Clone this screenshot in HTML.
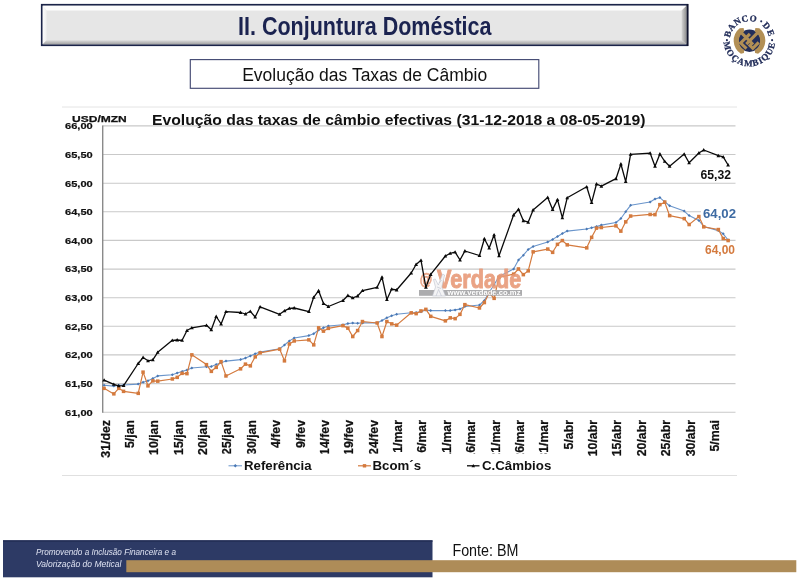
<!DOCTYPE html>
<html lang="pt"><head><meta charset="utf-8"><title>II. Conjuntura Doméstica</title>
<style>html,body{margin:0;padding:0;background:#fff}body{width:800px;height:579px;overflow:hidden}svg{display:block}text{font-family:"Liberation Sans",Arial,sans-serif}.b{font-weight:bold}.ser{font-family:"Liberation Serif","DejaVu Serif",serif;font-weight:bold}</style>
</head><body>
<svg width="800" height="579" viewBox="0 0 800 579">
<defs>
<linearGradient id="tg" x1="0" y1="0" x2="0" y2="1"><stop offset="0" stop-color="#ffffff"/><stop offset="0.14" stop-color="#fbfbfb"/><stop offset="0.17" stop-color="#e7e7e7"/><stop offset="0.86" stop-color="#e5e5e5"/><stop offset="0.93" stop-color="#cfcfcf"/><stop offset="1" stop-color="#9c9c9c"/></linearGradient>
<linearGradient id="tl" x1="0" y1="0" x2="1" y2="0"><stop offset="0" stop-color="#fbfbfb"/><stop offset="1" stop-color="#efefef"/></linearGradient>
<linearGradient id="tb" x1="0" y1="0" x2="0" y2="1"><stop offset="0" stop-color="#dcdcdc"/><stop offset="1" stop-color="#a2a2a2"/></linearGradient>
<linearGradient id="tr" x1="0" y1="0" x2="1" y2="0"><stop offset="0" stop-color="#d4d4d4"/><stop offset="1" stop-color="#8e8e8e"/></linearGradient>
</defs>
<rect width="800" height="579" fill="#ffffff"/>
<rect x="41.8" y="4.8" width="645.6" height="40.4" fill="#e6e6e6" stroke="#1b2449" stroke-width="1.8"/>
<path d="M42.7,5.7 L686.5,5.7 L681.6,10.6 L46.6,10.6 Z" fill="#fdfdfd"/>
<path d="M42.7,5.7 L46.6,10.6 L46.6,40.2 L42.7,44.3 Z" fill="url(#tl)"/>
<path d="M42.7,44.3 L46.6,40.2 L681.6,40.2 L686.5,44.3 Z" fill="url(#tb)"/>
<path d="M686.5,5.7 L686.5,44.3 L681.6,40.2 L681.6,10.6 Z" fill="url(#tr)"/>
<line x1="687.6" y1="4" x2="687.6" y2="46" stroke="#10142c" stroke-width="1.6"/>
<text class="b" x="238" y="35.2" font-size="25.5" fill="#1b2350" textLength="253.5" lengthAdjust="spacingAndGlyphs">II. Conjuntura Doméstica</text>
<rect x="190.3" y="59.6" width="348.5" height="28.7" fill="#fff" stroke="#454b74" stroke-width="1.15"/>
<text x="242.2" y="80.8" font-size="18" fill="#111" textLength="245" lengthAdjust="spacingAndGlyphs">Evolução das Taxas de Câmbio</text>
<line x1="62" y1="107" x2="737" y2="107" stroke="#e4e4e4" stroke-width="1"/>
<line x1="62" y1="475.5" x2="737" y2="475.5" stroke="#e0e0e0" stroke-width="1"/>
<line x1="102.5" y1="125.9" x2="735.5" y2="125.9" stroke="#c9c9c9" stroke-width="1.1"/>
<line x1="102.5" y1="154.5" x2="735.5" y2="154.5" stroke="#c9c9c9" stroke-width="1.1"/>
<line x1="102.5" y1="183.2" x2="735.5" y2="183.2" stroke="#c9c9c9" stroke-width="1.1"/>
<line x1="102.5" y1="211.8" x2="735.5" y2="211.8" stroke="#c9c9c9" stroke-width="1.1"/>
<line x1="102.5" y1="240.4" x2="735.5" y2="240.4" stroke="#c9c9c9" stroke-width="1.1"/>
<line x1="102.5" y1="269.1" x2="735.5" y2="269.1" stroke="#c9c9c9" stroke-width="1.1"/>
<line x1="102.5" y1="297.7" x2="735.5" y2="297.7" stroke="#c9c9c9" stroke-width="1.1"/>
<line x1="102.5" y1="326.3" x2="735.5" y2="326.3" stroke="#c9c9c9" stroke-width="1.1"/>
<line x1="102.5" y1="354.9" x2="735.5" y2="354.9" stroke="#c9c9c9" stroke-width="1.1"/>
<line x1="102.5" y1="383.6" x2="735.5" y2="383.6" stroke="#c9c9c9" stroke-width="1.1"/>
<line x1="102.5" y1="412.2" x2="735.5" y2="412.2" stroke="#c9c9c9" stroke-width="1.1"/>
<line x1="102.7" y1="125.4" x2="102.7" y2="412.8" stroke="#8a8a8a" stroke-width="1.4"/>
<text class="b" x="65" y="129.2" font-size="9.6" fill="#111" stroke="#111" stroke-width="0.2" textLength="27.7" lengthAdjust="spacingAndGlyphs">66,00</text>
<text class="b" x="65" y="157.8" font-size="9.6" fill="#111" stroke="#111" stroke-width="0.2" textLength="27.7" lengthAdjust="spacingAndGlyphs">65,50</text>
<text class="b" x="65" y="186.5" font-size="9.6" fill="#111" stroke="#111" stroke-width="0.2" textLength="27.7" lengthAdjust="spacingAndGlyphs">65,00</text>
<text class="b" x="65" y="215.1" font-size="9.6" fill="#111" stroke="#111" stroke-width="0.2" textLength="27.7" lengthAdjust="spacingAndGlyphs">64,50</text>
<text class="b" x="65" y="243.7" font-size="9.6" fill="#111" stroke="#111" stroke-width="0.2" textLength="27.7" lengthAdjust="spacingAndGlyphs">64,00</text>
<text class="b" x="65" y="272.4" font-size="9.6" fill="#111" stroke="#111" stroke-width="0.2" textLength="27.7" lengthAdjust="spacingAndGlyphs">63,50</text>
<text class="b" x="65" y="301.0" font-size="9.6" fill="#111" stroke="#111" stroke-width="0.2" textLength="27.7" lengthAdjust="spacingAndGlyphs">63,00</text>
<text class="b" x="65" y="329.6" font-size="9.6" fill="#111" stroke="#111" stroke-width="0.2" textLength="27.7" lengthAdjust="spacingAndGlyphs">62,50</text>
<text class="b" x="65" y="358.2" font-size="9.6" fill="#111" stroke="#111" stroke-width="0.2" textLength="27.7" lengthAdjust="spacingAndGlyphs">62,00</text>
<text class="b" x="65" y="386.9" font-size="9.6" fill="#111" stroke="#111" stroke-width="0.2" textLength="27.7" lengthAdjust="spacingAndGlyphs">61,50</text>
<text class="b" x="65" y="415.5" font-size="9.6" fill="#111" stroke="#111" stroke-width="0.2" textLength="27.7" lengthAdjust="spacingAndGlyphs">61,00</text>
<text class="b" x="72" y="121.8" font-size="9.9" fill="#111" stroke="#111" stroke-width="0.25" textLength="54.8" lengthAdjust="spacingAndGlyphs">USD/MZN</text>
<text class="b" x="152" y="125.3" font-size="14.7" fill="#111" textLength="493.5" lengthAdjust="spacingAndGlyphs">Evolução das taxas de câmbio efectivas (31-12-2018 a 08-05-2019)</text>
<text class="b" transform="translate(109.5,420) rotate(-90) scale(0.905,1)" x="0" y="0" text-anchor="end" font-size="13.6" fill="#111" stroke="#111" stroke-width="0.25">31/dez</text>
<text class="b" transform="translate(133.9,420) rotate(-90) scale(0.905,1)" x="0" y="0" text-anchor="end" font-size="13.6" fill="#111" stroke="#111" stroke-width="0.25">5/jan</text>
<text class="b" transform="translate(158.2,420) rotate(-90) scale(0.905,1)" x="0" y="0" text-anchor="end" font-size="13.6" fill="#111" stroke="#111" stroke-width="0.25">10/jan</text>
<text class="b" transform="translate(182.6,420) rotate(-90) scale(0.905,1)" x="0" y="0" text-anchor="end" font-size="13.6" fill="#111" stroke="#111" stroke-width="0.25">15/jan</text>
<text class="b" transform="translate(207.0,420) rotate(-90) scale(0.905,1)" x="0" y="0" text-anchor="end" font-size="13.6" fill="#111" stroke="#111" stroke-width="0.25">20/jan</text>
<text class="b" transform="translate(231.4,420) rotate(-90) scale(0.905,1)" x="0" y="0" text-anchor="end" font-size="13.6" fill="#111" stroke="#111" stroke-width="0.25">25/jan</text>
<text class="b" transform="translate(255.8,420) rotate(-90) scale(0.905,1)" x="0" y="0" text-anchor="end" font-size="13.6" fill="#111" stroke="#111" stroke-width="0.25">30/jan</text>
<text class="b" transform="translate(280.1,420) rotate(-90) scale(0.905,1)" x="0" y="0" text-anchor="end" font-size="13.6" fill="#111" stroke="#111" stroke-width="0.25">4/fev</text>
<text class="b" transform="translate(304.5,420) rotate(-90) scale(0.905,1)" x="0" y="0" text-anchor="end" font-size="13.6" fill="#111" stroke="#111" stroke-width="0.25">9/fev</text>
<text class="b" transform="translate(328.9,420) rotate(-90) scale(0.905,1)" x="0" y="0" text-anchor="end" font-size="13.6" fill="#111" stroke="#111" stroke-width="0.25">14/fev</text>
<text class="b" transform="translate(353.2,420) rotate(-90) scale(0.905,1)" x="0" y="0" text-anchor="end" font-size="13.6" fill="#111" stroke="#111" stroke-width="0.25">19/fev</text>
<text class="b" transform="translate(377.6,420) rotate(-90) scale(0.905,1)" x="0" y="0" text-anchor="end" font-size="13.6" fill="#111" stroke="#111" stroke-width="0.25">24/fev</text>
<text class="b" transform="translate(402.0,420) rotate(-90) scale(0.905,1)" x="0" y="0" text-anchor="end" font-size="13.6" fill="#111" stroke="#111" stroke-width="0.25">1/mar</text>
<text class="b" transform="translate(426.4,420) rotate(-90) scale(0.905,1)" x="0" y="0" text-anchor="end" font-size="13.6" fill="#111" stroke="#111" stroke-width="0.25">6/mar</text>
<text class="b" transform="translate(450.8,420) rotate(-90) scale(0.905,1)" x="0" y="0" text-anchor="end" font-size="13.6" fill="#111" stroke="#111" stroke-width="0.25">11/mar</text>
<text class="b" transform="translate(475.1,420) rotate(-90) scale(0.905,1)" x="0" y="0" text-anchor="end" font-size="13.6" fill="#111" stroke="#111" stroke-width="0.25">16/mar</text>
<text class="b" transform="translate(499.5,420) rotate(-90) scale(0.905,1)" x="0" y="0" text-anchor="end" font-size="13.6" fill="#111" stroke="#111" stroke-width="0.25">21/mar</text>
<text class="b" transform="translate(523.9,420) rotate(-90) scale(0.905,1)" x="0" y="0" text-anchor="end" font-size="13.6" fill="#111" stroke="#111" stroke-width="0.25">26/mar</text>
<text class="b" transform="translate(548.2,420) rotate(-90) scale(0.905,1)" x="0" y="0" text-anchor="end" font-size="13.6" fill="#111" stroke="#111" stroke-width="0.25">31/mar</text>
<text class="b" transform="translate(572.6,420) rotate(-90) scale(0.905,1)" x="0" y="0" text-anchor="end" font-size="13.6" fill="#111" stroke="#111" stroke-width="0.25">5/abr</text>
<text class="b" transform="translate(597.0,420) rotate(-90) scale(0.905,1)" x="0" y="0" text-anchor="end" font-size="13.6" fill="#111" stroke="#111" stroke-width="0.25">10/abr</text>
<text class="b" transform="translate(621.4,420) rotate(-90) scale(0.905,1)" x="0" y="0" text-anchor="end" font-size="13.6" fill="#111" stroke="#111" stroke-width="0.25">15/abr</text>
<text class="b" transform="translate(645.8,420) rotate(-90) scale(0.905,1)" x="0" y="0" text-anchor="end" font-size="13.6" fill="#111" stroke="#111" stroke-width="0.25">20/abr</text>
<text class="b" transform="translate(670.1,420) rotate(-90) scale(0.905,1)" x="0" y="0" text-anchor="end" font-size="13.6" fill="#111" stroke="#111" stroke-width="0.25">25/abr</text>
<text class="b" transform="translate(694.5,420) rotate(-90) scale(0.905,1)" x="0" y="0" text-anchor="end" font-size="13.6" fill="#111" stroke="#111" stroke-width="0.25">30/abr</text>
<text class="b" transform="translate(718.9,420) rotate(-90) scale(0.905,1)" x="0" y="0" text-anchor="end" font-size="13.6" fill="#111" stroke="#111" stroke-width="0.25">5/mai</text>
<polyline fill="none" stroke="#6a95cb" stroke-width="1.1" stroke-linejoin="round" points="104.1,385.3 113.8,386.1 118.7,385.3 123.6,385.0 138.2,384.1 143.1,382.3 148.0,380.8 152.8,378.6 157.7,375.9 172.3,374.8 177.2,373.0 182.1,371.4 187.0,370.0 191.8,368.0 206.5,366.8 211.3,366.6 216.2,364.4 221.1,362.8 226.0,361.1 240.6,359.6 245.5,358.1 250.3,356.0 255.2,353.8 260.1,352.1 279.6,348.8 284.5,345.0 289.4,340.9 294.2,338.0 308.9,335.6 313.7,333.8 318.6,330.0 323.5,327.8 328.4,326.0 343.0,324.8 347.9,323.6 352.7,323.0 357.6,323.3 362.5,322.9 377.1,322.9 382.0,320.6 386.9,317.8 391.7,315.8 396.6,314.3 411.2,312.8 416.1,312.5 421.0,311.8 425.9,310.1 430.7,310.6 445.4,310.6 450.2,310.6 455.1,309.9 460.0,309.1 464.9,306.5 479.5,305.0 484.4,300.5 489.2,292.3 494.1,284.8 499.0,276.5 513.6,268.9 518.5,260.0 523.4,255.2 528.2,249.5 533.1,246.5 547.7,242.0 552.6,239.4 557.5,236.5 562.4,233.5 567.2,231.1 586.7,229.0 591.6,227.8 596.5,226.6 601.4,225.1 616.0,222.5 620.9,218.5 625.7,211.7 630.6,205.3 650.1,202.0 655.0,199.0 659.9,197.6 664.7,201.8 669.6,205.8 684.2,211.1 689.1,215.6 698.9,220.5 703.7,226.5 718.4,230.6 723.2,233.8 728.1,240.0"/>
<path d="M102.6,385.3L104.1,383.8L105.6,385.3L104.1,386.8Z" fill="#4a78b4"/>
<path d="M112.3,386.1L113.8,384.6L115.3,386.1L113.8,387.6Z" fill="#4a78b4"/>
<path d="M117.2,385.3L118.7,383.8L120.2,385.3L118.7,386.8Z" fill="#4a78b4"/>
<path d="M122.1,385.0L123.6,383.5L125.1,385.0L123.6,386.5Z" fill="#4a78b4"/>
<path d="M136.7,384.1L138.2,382.6L139.7,384.1L138.2,385.6Z" fill="#4a78b4"/>
<path d="M141.6,382.3L143.1,380.8L144.6,382.3L143.1,383.8Z" fill="#4a78b4"/>
<path d="M146.5,380.8L148.0,379.3L149.5,380.8L148.0,382.3Z" fill="#4a78b4"/>
<path d="M151.3,378.6L152.8,377.1L154.3,378.6L152.8,380.1Z" fill="#4a78b4"/>
<path d="M156.2,375.9L157.7,374.4L159.2,375.9L157.7,377.4Z" fill="#4a78b4"/>
<path d="M170.8,374.8L172.3,373.3L173.8,374.8L172.3,376.3Z" fill="#4a78b4"/>
<path d="M175.7,373.0L177.2,371.5L178.7,373.0L177.2,374.5Z" fill="#4a78b4"/>
<path d="M180.6,371.4L182.1,369.9L183.6,371.4L182.1,372.9Z" fill="#4a78b4"/>
<path d="M185.5,370.0L187.0,368.5L188.5,370.0L187.0,371.5Z" fill="#4a78b4"/>
<path d="M190.3,368.0L191.8,366.5L193.3,368.0L191.8,369.5Z" fill="#4a78b4"/>
<path d="M205.0,366.8L206.5,365.3L208.0,366.8L206.5,368.3Z" fill="#4a78b4"/>
<path d="M209.8,366.6L211.3,365.1L212.8,366.6L211.3,368.1Z" fill="#4a78b4"/>
<path d="M214.7,364.4L216.2,362.9L217.7,364.4L216.2,365.9Z" fill="#4a78b4"/>
<path d="M219.6,362.8L221.1,361.3L222.6,362.8L221.1,364.3Z" fill="#4a78b4"/>
<path d="M224.5,361.1L226.0,359.6L227.5,361.1L226.0,362.6Z" fill="#4a78b4"/>
<path d="M239.1,359.6L240.6,358.1L242.1,359.6L240.6,361.1Z" fill="#4a78b4"/>
<path d="M244.0,358.1L245.5,356.6L247.0,358.1L245.5,359.6Z" fill="#4a78b4"/>
<path d="M248.8,356.0L250.3,354.5L251.8,356.0L250.3,357.5Z" fill="#4a78b4"/>
<path d="M253.7,353.8L255.2,352.3L256.7,353.8L255.2,355.3Z" fill="#4a78b4"/>
<path d="M258.6,352.1L260.1,350.6L261.6,352.1L260.1,353.6Z" fill="#4a78b4"/>
<path d="M278.1,348.8L279.6,347.3L281.1,348.8L279.6,350.3Z" fill="#4a78b4"/>
<path d="M283.0,345.0L284.5,343.5L286.0,345.0L284.5,346.5Z" fill="#4a78b4"/>
<path d="M287.9,340.9L289.4,339.4L290.9,340.9L289.4,342.4Z" fill="#4a78b4"/>
<path d="M292.7,338.0L294.2,336.5L295.7,338.0L294.2,339.5Z" fill="#4a78b4"/>
<path d="M307.4,335.6L308.9,334.1L310.4,335.6L308.9,337.1Z" fill="#4a78b4"/>
<path d="M312.2,333.8L313.7,332.3L315.2,333.8L313.7,335.3Z" fill="#4a78b4"/>
<path d="M317.1,330.0L318.6,328.5L320.1,330.0L318.6,331.5Z" fill="#4a78b4"/>
<path d="M322.0,327.8L323.5,326.3L325.0,327.8L323.5,329.3Z" fill="#4a78b4"/>
<path d="M326.9,326.0L328.4,324.5L329.9,326.0L328.4,327.5Z" fill="#4a78b4"/>
<path d="M341.5,324.8L343.0,323.3L344.5,324.8L343.0,326.3Z" fill="#4a78b4"/>
<path d="M346.4,323.6L347.9,322.1L349.4,323.6L347.9,325.1Z" fill="#4a78b4"/>
<path d="M351.2,323.0L352.7,321.5L354.2,323.0L352.7,324.5Z" fill="#4a78b4"/>
<path d="M356.1,323.3L357.6,321.8L359.1,323.3L357.6,324.8Z" fill="#4a78b4"/>
<path d="M361.0,322.9L362.5,321.4L364.0,322.9L362.5,324.4Z" fill="#4a78b4"/>
<path d="M375.6,322.9L377.1,321.4L378.6,322.9L377.1,324.4Z" fill="#4a78b4"/>
<path d="M380.5,320.6L382.0,319.1L383.5,320.6L382.0,322.1Z" fill="#4a78b4"/>
<path d="M385.4,317.8L386.9,316.3L388.4,317.8L386.9,319.3Z" fill="#4a78b4"/>
<path d="M390.2,315.8L391.7,314.3L393.2,315.8L391.7,317.3Z" fill="#4a78b4"/>
<path d="M395.1,314.3L396.6,312.8L398.1,314.3L396.6,315.8Z" fill="#4a78b4"/>
<path d="M409.7,312.8L411.2,311.3L412.7,312.8L411.2,314.3Z" fill="#4a78b4"/>
<path d="M414.6,312.5L416.1,311.0L417.6,312.5L416.1,314.0Z" fill="#4a78b4"/>
<path d="M419.5,311.8L421.0,310.3L422.5,311.8L421.0,313.3Z" fill="#4a78b4"/>
<path d="M424.4,310.1L425.9,308.6L427.4,310.1L425.9,311.6Z" fill="#4a78b4"/>
<path d="M429.2,310.6L430.7,309.1L432.2,310.6L430.7,312.1Z" fill="#4a78b4"/>
<path d="M443.9,310.6L445.4,309.1L446.9,310.6L445.4,312.1Z" fill="#4a78b4"/>
<path d="M448.7,310.6L450.2,309.1L451.7,310.6L450.2,312.1Z" fill="#4a78b4"/>
<path d="M453.6,309.9L455.1,308.4L456.6,309.9L455.1,311.4Z" fill="#4a78b4"/>
<path d="M458.5,309.1L460.0,307.6L461.5,309.1L460.0,310.6Z" fill="#4a78b4"/>
<path d="M463.4,306.5L464.9,305.0L466.4,306.5L464.9,308.0Z" fill="#4a78b4"/>
<path d="M478.0,305.0L479.5,303.5L481.0,305.0L479.5,306.5Z" fill="#4a78b4"/>
<path d="M482.9,300.5L484.4,299.0L485.9,300.5L484.4,302.0Z" fill="#4a78b4"/>
<path d="M487.7,292.3L489.2,290.8L490.7,292.3L489.2,293.8Z" fill="#4a78b4"/>
<path d="M492.6,284.8L494.1,283.3L495.6,284.8L494.1,286.3Z" fill="#4a78b4"/>
<path d="M497.5,276.5L499.0,275.0L500.5,276.5L499.0,278.0Z" fill="#4a78b4"/>
<path d="M512.1,268.9L513.6,267.4L515.1,268.9L513.6,270.4Z" fill="#4a78b4"/>
<path d="M517.0,260.0L518.5,258.5L520.0,260.0L518.5,261.5Z" fill="#4a78b4"/>
<path d="M521.9,255.2L523.4,253.7L524.9,255.2L523.4,256.7Z" fill="#4a78b4"/>
<path d="M526.7,249.5L528.2,248.0L529.7,249.5L528.2,251.0Z" fill="#4a78b4"/>
<path d="M531.6,246.5L533.1,245.0L534.6,246.5L533.1,248.0Z" fill="#4a78b4"/>
<path d="M546.2,242.0L547.7,240.5L549.2,242.0L547.7,243.5Z" fill="#4a78b4"/>
<path d="M551.1,239.4L552.6,237.9L554.1,239.4L552.6,240.9Z" fill="#4a78b4"/>
<path d="M556.0,236.5L557.5,235.0L559.0,236.5L557.5,238.0Z" fill="#4a78b4"/>
<path d="M560.9,233.5L562.4,232.0L563.9,233.5L562.4,235.0Z" fill="#4a78b4"/>
<path d="M565.7,231.1L567.2,229.6L568.7,231.1L567.2,232.6Z" fill="#4a78b4"/>
<path d="M585.2,229.0L586.7,227.5L588.2,229.0L586.7,230.5Z" fill="#4a78b4"/>
<path d="M590.1,227.8L591.6,226.3L593.1,227.8L591.6,229.3Z" fill="#4a78b4"/>
<path d="M595.0,226.6L596.5,225.1L598.0,226.6L596.5,228.1Z" fill="#4a78b4"/>
<path d="M599.9,225.1L601.4,223.6L602.9,225.1L601.4,226.6Z" fill="#4a78b4"/>
<path d="M614.5,222.5L616.0,221.0L617.5,222.5L616.0,224.0Z" fill="#4a78b4"/>
<path d="M619.4,218.5L620.9,217.0L622.4,218.5L620.9,220.0Z" fill="#4a78b4"/>
<path d="M624.2,211.7L625.7,210.2L627.2,211.7L625.7,213.2Z" fill="#4a78b4"/>
<path d="M629.1,205.3L630.6,203.8L632.1,205.3L630.6,206.8Z" fill="#4a78b4"/>
<path d="M648.6,202.0L650.1,200.5L651.6,202.0L650.1,203.5Z" fill="#4a78b4"/>
<path d="M653.5,199.0L655.0,197.5L656.5,199.0L655.0,200.5Z" fill="#4a78b4"/>
<path d="M658.4,197.6L659.9,196.1L661.4,197.6L659.9,199.1Z" fill="#4a78b4"/>
<path d="M663.2,201.8L664.7,200.3L666.2,201.8L664.7,203.3Z" fill="#4a78b4"/>
<path d="M668.1,205.8L669.6,204.3L671.1,205.8L669.6,207.3Z" fill="#4a78b4"/>
<path d="M682.7,211.1L684.2,209.6L685.7,211.1L684.2,212.6Z" fill="#4a78b4"/>
<path d="M687.6,215.6L689.1,214.1L690.6,215.6L689.1,217.1Z" fill="#4a78b4"/>
<path d="M697.4,220.5L698.9,219.0L700.4,220.5L698.9,222.0Z" fill="#4a78b4"/>
<path d="M702.2,226.5L703.7,225.0L705.2,226.5L703.7,228.0Z" fill="#4a78b4"/>
<path d="M716.9,230.6L718.4,229.1L719.9,230.6L718.4,232.1Z" fill="#4a78b4"/>
<path d="M721.7,233.8L723.2,232.3L724.7,233.8L723.2,235.3Z" fill="#4a78b4"/>
<path d="M726.6,240.0L728.1,238.5L729.6,240.0L728.1,241.5Z" fill="#4a78b4"/>
<polyline fill="none" stroke="#d47a3e" stroke-width="1.2" stroke-linejoin="round" points="104.1,388.3 113.8,393.9 118.7,388.3 123.6,391.3 138.2,393.3 143.1,372.1 148.0,385.8 152.8,380.8 157.7,381.1 172.3,379.0 177.2,377.4 182.1,373.3 187.0,373.6 191.8,354.8 206.5,364.6 211.3,371.3 216.2,367.3 221.1,361.6 226.0,376.0 240.6,368.8 245.5,364.1 250.3,365.8 255.2,356.8 260.1,352.9 279.6,349.1 284.5,360.8 289.4,344.0 294.2,341.0 308.9,339.8 313.7,344.8 318.6,327.8 323.5,331.2 328.4,328.3 343.0,325.6 347.9,328.1 352.7,336.5 357.6,330.5 362.5,321.5 377.1,323.0 382.0,336.5 386.9,321.5 391.7,323.8 396.6,325.1 411.2,312.8 416.1,313.6 421.0,311.0 425.9,309.3 430.7,316.4 445.4,320.9 450.2,317.8 455.1,318.6 460.0,314.4 464.9,304.6 479.5,308.0 484.4,302.5 489.2,293.0 494.1,298.3 499.0,277.3 513.6,274.2 518.5,269.0 523.4,274.6 528.2,270.8 533.1,251.8 547.7,249.1 552.6,252.3 557.5,244.3 562.4,240.6 567.2,244.8 586.7,247.8 591.6,237.3 596.5,228.2 601.4,227.5 616.0,225.8 620.9,231.2 625.7,221.8 630.6,216.1 650.1,214.4 655.0,214.7 659.9,204.7 664.7,202.1 669.6,215.7 684.2,218.7 689.1,224.6 698.9,216.5 703.7,226.8 718.4,229.5 723.2,238.6 728.1,240.5"/>
<rect x="102.3" y="386.6" width="3.5" height="3.5" fill="#d47a3e"/>
<rect x="112.1" y="392.1" width="3.5" height="3.5" fill="#d47a3e"/>
<rect x="117.0" y="386.6" width="3.5" height="3.5" fill="#d47a3e"/>
<rect x="121.8" y="389.6" width="3.5" height="3.5" fill="#d47a3e"/>
<rect x="136.5" y="391.6" width="3.5" height="3.5" fill="#d47a3e"/>
<rect x="141.3" y="370.4" width="3.5" height="3.5" fill="#d47a3e"/>
<rect x="146.2" y="384.1" width="3.5" height="3.5" fill="#d47a3e"/>
<rect x="151.1" y="379.1" width="3.5" height="3.5" fill="#d47a3e"/>
<rect x="156.0" y="379.4" width="3.5" height="3.5" fill="#d47a3e"/>
<rect x="170.6" y="377.2" width="3.5" height="3.5" fill="#d47a3e"/>
<rect x="175.5" y="375.6" width="3.5" height="3.5" fill="#d47a3e"/>
<rect x="180.3" y="371.6" width="3.5" height="3.5" fill="#d47a3e"/>
<rect x="185.2" y="371.9" width="3.5" height="3.5" fill="#d47a3e"/>
<rect x="190.1" y="353.1" width="3.5" height="3.5" fill="#d47a3e"/>
<rect x="204.7" y="362.9" width="3.5" height="3.5" fill="#d47a3e"/>
<rect x="209.6" y="369.6" width="3.5" height="3.5" fill="#d47a3e"/>
<rect x="214.5" y="365.6" width="3.5" height="3.5" fill="#d47a3e"/>
<rect x="219.3" y="359.9" width="3.5" height="3.5" fill="#d47a3e"/>
<rect x="224.2" y="374.2" width="3.5" height="3.5" fill="#d47a3e"/>
<rect x="238.8" y="367.1" width="3.5" height="3.5" fill="#d47a3e"/>
<rect x="243.7" y="362.4" width="3.5" height="3.5" fill="#d47a3e"/>
<rect x="248.6" y="364.1" width="3.5" height="3.5" fill="#d47a3e"/>
<rect x="253.5" y="355.1" width="3.5" height="3.5" fill="#d47a3e"/>
<rect x="258.4" y="351.1" width="3.5" height="3.5" fill="#d47a3e"/>
<rect x="277.9" y="347.4" width="3.5" height="3.5" fill="#d47a3e"/>
<rect x="282.7" y="359.1" width="3.5" height="3.5" fill="#d47a3e"/>
<rect x="287.6" y="342.2" width="3.5" height="3.5" fill="#d47a3e"/>
<rect x="292.5" y="339.2" width="3.5" height="3.5" fill="#d47a3e"/>
<rect x="307.1" y="338.1" width="3.5" height="3.5" fill="#d47a3e"/>
<rect x="312.0" y="343.1" width="3.5" height="3.5" fill="#d47a3e"/>
<rect x="316.9" y="326.1" width="3.5" height="3.5" fill="#d47a3e"/>
<rect x="321.7" y="329.4" width="3.5" height="3.5" fill="#d47a3e"/>
<rect x="326.6" y="326.6" width="3.5" height="3.5" fill="#d47a3e"/>
<rect x="341.2" y="323.9" width="3.5" height="3.5" fill="#d47a3e"/>
<rect x="346.1" y="326.4" width="3.5" height="3.5" fill="#d47a3e"/>
<rect x="351.0" y="334.8" width="3.5" height="3.5" fill="#d47a3e"/>
<rect x="355.9" y="328.8" width="3.5" height="3.5" fill="#d47a3e"/>
<rect x="360.7" y="319.8" width="3.5" height="3.5" fill="#d47a3e"/>
<rect x="375.4" y="321.2" width="3.5" height="3.5" fill="#d47a3e"/>
<rect x="380.2" y="334.8" width="3.5" height="3.5" fill="#d47a3e"/>
<rect x="385.1" y="319.8" width="3.5" height="3.5" fill="#d47a3e"/>
<rect x="390.0" y="322.1" width="3.5" height="3.5" fill="#d47a3e"/>
<rect x="394.9" y="323.4" width="3.5" height="3.5" fill="#d47a3e"/>
<rect x="409.5" y="311.1" width="3.5" height="3.5" fill="#d47a3e"/>
<rect x="414.4" y="311.9" width="3.5" height="3.5" fill="#d47a3e"/>
<rect x="419.2" y="309.2" width="3.5" height="3.5" fill="#d47a3e"/>
<rect x="424.1" y="307.6" width="3.5" height="3.5" fill="#d47a3e"/>
<rect x="429.0" y="314.6" width="3.5" height="3.5" fill="#d47a3e"/>
<rect x="443.6" y="319.1" width="3.5" height="3.5" fill="#d47a3e"/>
<rect x="448.5" y="316.1" width="3.5" height="3.5" fill="#d47a3e"/>
<rect x="453.4" y="316.9" width="3.5" height="3.5" fill="#d47a3e"/>
<rect x="458.2" y="312.6" width="3.5" height="3.5" fill="#d47a3e"/>
<rect x="463.1" y="302.9" width="3.5" height="3.5" fill="#d47a3e"/>
<rect x="477.7" y="306.2" width="3.5" height="3.5" fill="#d47a3e"/>
<rect x="482.6" y="300.8" width="3.5" height="3.5" fill="#d47a3e"/>
<rect x="487.5" y="291.2" width="3.5" height="3.5" fill="#d47a3e"/>
<rect x="492.4" y="296.6" width="3.5" height="3.5" fill="#d47a3e"/>
<rect x="497.2" y="275.6" width="3.5" height="3.5" fill="#d47a3e"/>
<rect x="511.9" y="272.4" width="3.5" height="3.5" fill="#d47a3e"/>
<rect x="516.7" y="267.2" width="3.5" height="3.5" fill="#d47a3e"/>
<rect x="521.6" y="272.9" width="3.5" height="3.5" fill="#d47a3e"/>
<rect x="526.5" y="269.1" width="3.5" height="3.5" fill="#d47a3e"/>
<rect x="531.4" y="250.1" width="3.5" height="3.5" fill="#d47a3e"/>
<rect x="546.0" y="247.3" width="3.5" height="3.5" fill="#d47a3e"/>
<rect x="550.9" y="250.6" width="3.5" height="3.5" fill="#d47a3e"/>
<rect x="555.7" y="242.6" width="3.5" height="3.5" fill="#d47a3e"/>
<rect x="560.6" y="238.8" width="3.5" height="3.5" fill="#d47a3e"/>
<rect x="565.5" y="243.1" width="3.5" height="3.5" fill="#d47a3e"/>
<rect x="585.0" y="246.1" width="3.5" height="3.5" fill="#d47a3e"/>
<rect x="589.9" y="235.6" width="3.5" height="3.5" fill="#d47a3e"/>
<rect x="594.7" y="226.4" width="3.5" height="3.5" fill="#d47a3e"/>
<rect x="599.6" y="225.8" width="3.5" height="3.5" fill="#d47a3e"/>
<rect x="614.2" y="224.1" width="3.5" height="3.5" fill="#d47a3e"/>
<rect x="619.1" y="229.4" width="3.5" height="3.5" fill="#d47a3e"/>
<rect x="624.0" y="220.1" width="3.5" height="3.5" fill="#d47a3e"/>
<rect x="628.9" y="214.3" width="3.5" height="3.5" fill="#d47a3e"/>
<rect x="648.4" y="212.7" width="3.5" height="3.5" fill="#d47a3e"/>
<rect x="653.2" y="212.9" width="3.5" height="3.5" fill="#d47a3e"/>
<rect x="658.1" y="202.9" width="3.5" height="3.5" fill="#d47a3e"/>
<rect x="663.0" y="200.3" width="3.5" height="3.5" fill="#d47a3e"/>
<rect x="667.9" y="213.9" width="3.5" height="3.5" fill="#d47a3e"/>
<rect x="682.5" y="216.9" width="3.5" height="3.5" fill="#d47a3e"/>
<rect x="687.4" y="222.8" width="3.5" height="3.5" fill="#d47a3e"/>
<rect x="697.1" y="214.8" width="3.5" height="3.5" fill="#d47a3e"/>
<rect x="702.0" y="225.1" width="3.5" height="3.5" fill="#d47a3e"/>
<rect x="716.6" y="227.8" width="3.5" height="3.5" fill="#d47a3e"/>
<rect x="721.5" y="236.8" width="3.5" height="3.5" fill="#d47a3e"/>
<rect x="726.4" y="238.8" width="3.5" height="3.5" fill="#d47a3e"/>
<g opacity="0.9">
<text class="b" x="419.7" y="285.3" font-size="17.4" fill="#e89a78" stroke="#e89a78" stroke-width="0.6" textLength="12.4" lengthAdjust="spacingAndGlyphs">@</text>
<text class="b" x="437" y="288.4" font-size="26.5" fill="#e89a78" stroke="#e89a78" stroke-width="1.0" stroke-linejoin="round" textLength="84.3" lengthAdjust="spacingAndGlyphs">Verdade</text>
<rect x="419" y="290" width="103" height="5.8" fill="#a4a4a6"/>
<path d="M432.5,296 L435.5,287 L433.5,279.5 L435.3,279 L438.3,285 L442.6,274 L444.6,275 L441.8,287 L445.5,296 Z" fill="#f3f3f5" stroke="#b9bcc8" stroke-width="0.6"/><path d="M436,296 L438.6,289.5 L441.4,296 M437,287 L441,288.5 M439.3,283 L441.5,280" fill="none" stroke="#b4b8c6" stroke-width="0.6"/>
<text class="b" x="447.5" y="295.2" font-size="7" fill="#ffffff" textLength="73" lengthAdjust="spacingAndGlyphs">www.verdade.co.mz</text>
<line x1="420" y1="297.8" x2="440" y2="297.8" stroke="#c8c8c8" stroke-width="0.6"/>
</g>
<polyline fill="none" stroke="#0a0a0a" stroke-width="1.3" stroke-linejoin="round" points="104.1,380.1 113.8,384.3 118.7,385.8 123.6,385.6 138.2,363.5 143.1,357.5 148.0,360.8 152.8,359.8 157.7,352.3 172.3,340.3 177.2,340.0 182.1,340.3 187.0,330.5 191.8,327.8 206.5,325.3 211.3,329.7 216.2,316.5 221.1,324.0 226.0,311.6 240.6,312.5 245.5,314.0 250.3,311.3 255.2,317.0 260.1,306.8 279.6,314.3 284.5,310.8 289.4,308.3 294.2,308.0 308.9,311.6 313.7,297.3 318.6,290.7 323.5,303.5 328.4,306.5 343.0,300.5 347.9,295.5 352.7,297.8 357.6,296.0 362.5,290.6 377.1,287.3 382.0,277.1 386.9,299.6 391.7,289.1 396.6,290.0 411.2,273.0 416.1,264.5 421.0,260.3 425.9,287.3 430.7,274.4 445.4,256.0 450.2,253.3 455.1,252.1 460.0,260.0 464.9,251.0 479.5,255.5 484.4,238.7 489.2,248.0 494.1,234.8 499.0,255.8 513.6,215.0 518.5,209.3 523.4,220.7 528.2,222.2 533.1,210.0 547.7,197.5 552.6,209.4 557.5,199.6 562.4,217.8 567.2,197.8 586.7,186.8 591.6,202.6 596.5,184.0 601.4,186.2 616.0,178.7 620.9,164.0 625.7,181.6 630.6,154.3 650.1,153.1 655.0,166.2 659.9,154.0 664.7,161.3 669.6,166.2 684.2,154.1 689.1,162.8 698.9,153.0 703.7,150.0 718.4,155.7 723.2,156.8 728.1,165.0"/>
<path d="M102.2,381.6L104.1,378.2L106.0,381.6Z" fill="#0a0a0a"/>
<path d="M111.9,385.8L113.8,382.4L115.8,385.8Z" fill="#0a0a0a"/>
<path d="M116.8,387.3L118.7,383.9L120.6,387.3Z" fill="#0a0a0a"/>
<path d="M121.7,387.1L123.6,383.7L125.5,387.1Z" fill="#0a0a0a"/>
<path d="M136.3,365.0L138.2,361.6L140.1,365.0Z" fill="#0a0a0a"/>
<path d="M141.2,359.0L143.1,355.6L145.0,359.0Z" fill="#0a0a0a"/>
<path d="M146.1,362.3L148.0,358.9L149.9,362.3Z" fill="#0a0a0a"/>
<path d="M150.9,361.3L152.8,357.9L154.8,361.3Z" fill="#0a0a0a"/>
<path d="M155.8,353.8L157.7,350.4L159.6,353.8Z" fill="#0a0a0a"/>
<path d="M170.4,341.8L172.3,338.4L174.2,341.8Z" fill="#0a0a0a"/>
<path d="M175.3,341.5L177.2,338.1L179.1,341.5Z" fill="#0a0a0a"/>
<path d="M180.2,341.8L182.1,338.4L184.0,341.8Z" fill="#0a0a0a"/>
<path d="M185.1,332.0L187.0,328.6L188.9,332.0Z" fill="#0a0a0a"/>
<path d="M189.9,329.3L191.8,325.9L193.8,329.3Z" fill="#0a0a0a"/>
<path d="M204.6,326.8L206.5,323.4L208.4,326.8Z" fill="#0a0a0a"/>
<path d="M209.4,331.2L211.3,327.8L213.2,331.2Z" fill="#0a0a0a"/>
<path d="M214.3,318.0L216.2,314.6L218.1,318.0Z" fill="#0a0a0a"/>
<path d="M219.2,325.5L221.1,322.1L223.0,325.5Z" fill="#0a0a0a"/>
<path d="M224.1,313.1L226.0,309.7L227.9,313.1Z" fill="#0a0a0a"/>
<path d="M238.7,314.0L240.6,310.6L242.5,314.0Z" fill="#0a0a0a"/>
<path d="M243.6,315.5L245.5,312.1L247.4,315.5Z" fill="#0a0a0a"/>
<path d="M248.4,312.8L250.3,309.4L252.2,312.8Z" fill="#0a0a0a"/>
<path d="M253.3,318.5L255.2,315.1L257.1,318.5Z" fill="#0a0a0a"/>
<path d="M258.2,308.3L260.1,304.9L262.0,308.3Z" fill="#0a0a0a"/>
<path d="M277.7,315.8L279.6,312.4L281.5,315.8Z" fill="#0a0a0a"/>
<path d="M282.6,312.3L284.5,308.9L286.4,312.3Z" fill="#0a0a0a"/>
<path d="M287.5,309.8L289.4,306.4L291.2,309.8Z" fill="#0a0a0a"/>
<path d="M292.3,309.5L294.2,306.1L296.1,309.5Z" fill="#0a0a0a"/>
<path d="M307.0,313.1L308.9,309.7L310.8,313.1Z" fill="#0a0a0a"/>
<path d="M311.8,298.8L313.7,295.4L315.6,298.8Z" fill="#0a0a0a"/>
<path d="M316.7,292.2L318.6,288.8L320.5,292.2Z" fill="#0a0a0a"/>
<path d="M321.6,305.0L323.5,301.6L325.4,305.0Z" fill="#0a0a0a"/>
<path d="M326.5,308.0L328.4,304.6L330.2,308.0Z" fill="#0a0a0a"/>
<path d="M341.1,302.0L343.0,298.6L344.9,302.0Z" fill="#0a0a0a"/>
<path d="M346.0,297.0L347.9,293.6L349.8,297.0Z" fill="#0a0a0a"/>
<path d="M350.8,299.3L352.7,295.9L354.6,299.3Z" fill="#0a0a0a"/>
<path d="M355.7,297.5L357.6,294.1L359.5,297.5Z" fill="#0a0a0a"/>
<path d="M360.6,292.1L362.5,288.7L364.4,292.1Z" fill="#0a0a0a"/>
<path d="M375.2,288.8L377.1,285.4L379.0,288.8Z" fill="#0a0a0a"/>
<path d="M380.1,278.6L382.0,275.2L383.9,278.6Z" fill="#0a0a0a"/>
<path d="M385.0,301.1L386.9,297.7L388.8,301.1Z" fill="#0a0a0a"/>
<path d="M389.8,290.6L391.7,287.2L393.6,290.6Z" fill="#0a0a0a"/>
<path d="M394.7,291.5L396.6,288.1L398.5,291.5Z" fill="#0a0a0a"/>
<path d="M409.3,274.5L411.2,271.1L413.1,274.5Z" fill="#0a0a0a"/>
<path d="M414.2,266.0L416.1,262.6L418.0,266.0Z" fill="#0a0a0a"/>
<path d="M419.1,261.8L421.0,258.4L422.9,261.8Z" fill="#0a0a0a"/>
<path d="M424.0,288.8L425.9,285.4L427.8,288.8Z" fill="#0a0a0a"/>
<path d="M428.8,275.9L430.7,272.5L432.6,275.9Z" fill="#0a0a0a"/>
<path d="M443.5,257.5L445.4,254.1L447.2,257.5Z" fill="#0a0a0a"/>
<path d="M448.3,254.8L450.2,251.4L452.1,254.8Z" fill="#0a0a0a"/>
<path d="M453.2,253.6L455.1,250.2L457.0,253.6Z" fill="#0a0a0a"/>
<path d="M458.1,261.5L460.0,258.1L461.9,261.5Z" fill="#0a0a0a"/>
<path d="M463.0,252.5L464.9,249.1L466.8,252.5Z" fill="#0a0a0a"/>
<path d="M477.6,257.0L479.5,253.6L481.4,257.0Z" fill="#0a0a0a"/>
<path d="M482.5,240.2L484.4,236.8L486.2,240.2Z" fill="#0a0a0a"/>
<path d="M487.3,249.5L489.2,246.1L491.1,249.5Z" fill="#0a0a0a"/>
<path d="M492.2,236.3L494.1,232.9L496.0,236.3Z" fill="#0a0a0a"/>
<path d="M497.1,257.3L499.0,253.9L500.9,257.3Z" fill="#0a0a0a"/>
<path d="M511.7,216.5L513.6,213.1L515.5,216.5Z" fill="#0a0a0a"/>
<path d="M516.6,210.8L518.5,207.4L520.4,210.8Z" fill="#0a0a0a"/>
<path d="M521.5,222.2L523.4,218.8L525.2,222.2Z" fill="#0a0a0a"/>
<path d="M526.3,223.7L528.2,220.3L530.1,223.7Z" fill="#0a0a0a"/>
<path d="M531.2,211.5L533.1,208.1L535.0,211.5Z" fill="#0a0a0a"/>
<path d="M545.8,199.0L547.7,195.6L549.6,199.0Z" fill="#0a0a0a"/>
<path d="M550.7,210.9L552.6,207.5L554.5,210.9Z" fill="#0a0a0a"/>
<path d="M555.6,201.1L557.5,197.7L559.4,201.1Z" fill="#0a0a0a"/>
<path d="M560.5,219.3L562.4,215.9L564.2,219.3Z" fill="#0a0a0a"/>
<path d="M565.3,199.3L567.2,195.9L569.1,199.3Z" fill="#0a0a0a"/>
<path d="M584.8,188.3L586.7,184.9L588.6,188.3Z" fill="#0a0a0a"/>
<path d="M589.7,204.1L591.6,200.7L593.5,204.1Z" fill="#0a0a0a"/>
<path d="M594.6,185.5L596.5,182.1L598.4,185.5Z" fill="#0a0a0a"/>
<path d="M599.5,187.7L601.4,184.3L603.2,187.7Z" fill="#0a0a0a"/>
<path d="M614.1,180.2L616.0,176.8L617.9,180.2Z" fill="#0a0a0a"/>
<path d="M619.0,165.5L620.9,162.1L622.8,165.5Z" fill="#0a0a0a"/>
<path d="M623.8,183.1L625.7,179.7L627.6,183.1Z" fill="#0a0a0a"/>
<path d="M628.7,155.8L630.6,152.4L632.5,155.8Z" fill="#0a0a0a"/>
<path d="M648.2,154.6L650.1,151.2L652.0,154.6Z" fill="#0a0a0a"/>
<path d="M653.1,167.7L655.0,164.3L656.9,167.7Z" fill="#0a0a0a"/>
<path d="M658.0,155.5L659.9,152.1L661.8,155.5Z" fill="#0a0a0a"/>
<path d="M662.8,162.8L664.7,159.4L666.6,162.8Z" fill="#0a0a0a"/>
<path d="M667.7,167.7L669.6,164.3L671.5,167.7Z" fill="#0a0a0a"/>
<path d="M682.3,155.6L684.2,152.2L686.1,155.6Z" fill="#0a0a0a"/>
<path d="M687.2,164.3L689.1,160.9L691.0,164.3Z" fill="#0a0a0a"/>
<path d="M697.0,154.5L698.9,151.1L700.8,154.5Z" fill="#0a0a0a"/>
<path d="M701.8,151.5L703.7,148.1L705.6,151.5Z" fill="#0a0a0a"/>
<path d="M716.5,157.2L718.4,153.8L720.2,157.2Z" fill="#0a0a0a"/>
<path d="M721.3,158.3L723.2,154.9L725.1,158.3Z" fill="#0a0a0a"/>
<path d="M726.2,166.5L728.1,163.1L730.0,166.5Z" fill="#0a0a0a"/>
<rect x="701" y="205" width="36" height="15" fill="#fff"/>
<text class="b" x="700.5" y="178.6" font-size="12.6" fill="#111" textLength="30.5" lengthAdjust="spacingAndGlyphs">65,32</text>
<text class="b" x="703" y="218.2" font-size="13.6" fill="#3e6ba3" textLength="33" lengthAdjust="spacingAndGlyphs">64,02</text>
<text class="b" x="705" y="254.4" font-size="12.4" fill="#d47a3e" textLength="30" lengthAdjust="spacingAndGlyphs">64,00</text>
<rect x="222" y="453.6" width="338" height="21" fill="#fff"/>
<line x1="228.5" y1="465.8" x2="242" y2="465.8" stroke="#6a95cb" stroke-width="1"/>
<path d="M233.6,465.8l1.7,-1.7l1.7,1.7l-1.7,1.7z" fill="#4a78b4"/>
<text class="b" x="244" y="470" font-size="12.2" fill="#111" textLength="67.6" lengthAdjust="spacingAndGlyphs">Referência</text>
<line x1="358" y1="465.8" x2="371" y2="465.8" stroke="#d47a3e" stroke-width="1.2"/>
<rect x="362.8" y="464.1" width="3.4" height="3.4" fill="#d47a3e"/>
<text class="b" x="372.5" y="470" font-size="12.2" fill="#111" textLength="48.5" lengthAdjust="spacingAndGlyphs">Bcom´s</text>
<line x1="467" y1="465.8" x2="479.5" y2="465.8" stroke="#0a0a0a" stroke-width="1.3"/>
<path d="M471.5,467.3l1.8,-3.3l1.8,3.3z" fill="#0a0a0a"/>
<text class="b" x="482" y="469.6" font-size="12.2" fill="#111" textLength="69.3" lengthAdjust="spacingAndGlyphs">C.Câmbios</text>
<rect x="3" y="540.3" width="429.5" height="37" fill="#2d3a65"/>
<rect x="3" y="540.3" width="429.5" height="1.5" fill="#232e55"/>
<rect x="126.3" y="560.2" width="670" height="12" fill="#ae8c58"/>
<text x="36" y="555.4" font-size="8.3" font-style="italic" fill="#dfe3f2" textLength="140" lengthAdjust="spacingAndGlyphs">Promovendo a Inclusão Financeira e a</text>
<text x="36" y="567.4" font-size="8.3" font-style="italic" fill="#dfe3f2" textLength="85.5" lengthAdjust="spacingAndGlyphs">Valorização do Metical</text>
<text x="452.4" y="556.4" font-size="16.8" fill="#111" textLength="66" lengthAdjust="spacingAndGlyphs">Fonte: BM</text>
<g transform="translate(749.5,40.7)">
<defs>
<path id="aB" d="M-19.48,-2.91 A19.7,19.7 0 0 1 7.38,-18.27"/>
<path id="aD" d="M12.53,-15.20 A19.7,19.7 0 0 1 19.51,-2.74"/>
<path id="aM" d="M-25.55,1.56 A25.6,25.6 0 0 0 25.54,1.79"/>
</defs>
<circle r="11.2" fill="#232e5a"/>
<path d="M-9.8,-12.4 A15.6,15.6 0 0 0 -8.6,13.1 L-5.6,12.2 L-5.2,9.3 A10.6,10.6 0 0 1 -5.2,-9.2 L-5.9,-12.6 Z" fill="#b28f55"/>
<path d="M-9.8,-12.4 A15.6,15.6 0 0 0 -8.6,13.1 L-5.6,12.2 L-5.2,9.3 A10.6,10.6 0 0 1 -5.2,-9.2 L-5.9,-12.6 Z" fill="#b28f55" transform="scale(-1,1)"/>
<path d="M-8.2,-8.0 L3.6,3.8 M8.2,-8.0 L-3.2,3.4 M0.4,-6.9 L-8.8,2.3 L-3.0,7.9 M9.2,1.6 L3.3,7.7 L-0.6,3.8" fill="none" stroke="#b28f55" stroke-width="3.1" stroke-linejoin="miter"/>
<circle cx="-22.59" cy="-0.55" r="1.05" fill="#232e5a"/>
<circle cx="11.71" cy="-19.33" r="1.05" fill="#232e5a"/>
<circle cx="22.59" cy="-0.55" r="1.05" fill="#232e5a"/>
<text class="ser" font-size="9" fill="#232e5a" stroke="#232e5a" stroke-width="0.3" textLength="34.4" lengthAdjust="spacing"><textPath href="#aB" startOffset="0" textLength="34.4" lengthAdjust="spacing">BANCO</textPath></text>
<text class="ser" font-size="9" fill="#232e5a" stroke="#232e5a" stroke-width="0.3" textLength="13.4" lengthAdjust="spacing"><textPath href="#aD" startOffset="0" textLength="13.4" lengthAdjust="spacing">DE</textPath></text>
<text class="ser" font-size="9" fill="#232e5a" stroke="#232e5a" stroke-width="0.3" textLength="75.6" lengthAdjust="spacing"><textPath href="#aM" startOffset="0" textLength="75.6" lengthAdjust="spacing">MOÇAMBIQUE</textPath></text>
</g>
</svg>
</body></html>
